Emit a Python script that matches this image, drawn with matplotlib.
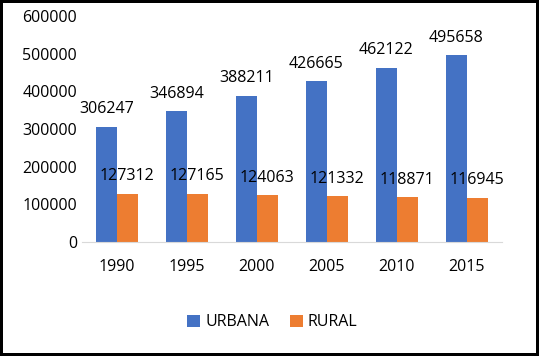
import numpy as np
import matplotlib.pyplot as plt

years = ['1990', '1995', '2000', '2005', '2010', '2015']
urbana = [306247, 346894, 388211, 426665, 462122, 495658]
rural = [127312, 127165, 124063, 121332, 118871, 116945]

plt.rcParams['font.family'] = ['Open Sans', 'DejaVu Sans']
fs = 11.5

fig = plt.figure(figsize=(5.39, 3.56), dpi=100)
fig.patch.set_edgecolor('black')
fig.patch.set_linewidth(3)
ax = fig.add_axes([0.152, 0.32, 0.779, 0.635])

x = np.arange(len(years))
w = 0.3
b1 = ax.bar(x - w/2, urbana, w, color='#4472C4', label='URBANA')
b2 = ax.bar(x + w/2, rural, w, color='#ED7D31', label='RURAL')
ax.bar_label(b1, padding=7, fontsize=fs)
ax.bar_label(b2, padding=7, fontsize=fs)

ax.set_xlim(-0.5, len(years) - 0.5)
ax.set_ylim(0, 600000)
ax.set_yticks(np.arange(0, 600001, 100000))
ax.set_xticks(x)
ax.set_xticklabels(years)
ax.tick_params(axis='both', length=0, labelsize=fs)
ax.tick_params(axis='x', pad=12)
for s in ['top', 'right', 'left']:
    ax.spines[s].set_visible(False)
ax.spines['bottom'].set_color('#D9D9D9')

fig.legend(loc='center', bbox_to_anchor=(0.505, 0.095), ncol=2, frameon=False,
           fontsize=fs, handlelength=0.8, handleheight=0.8, columnspacing=1.3,
           handletextpad=0.3)

plt.savefig('out.png', dpi=100, edgecolor=fig.get_edgecolor())
